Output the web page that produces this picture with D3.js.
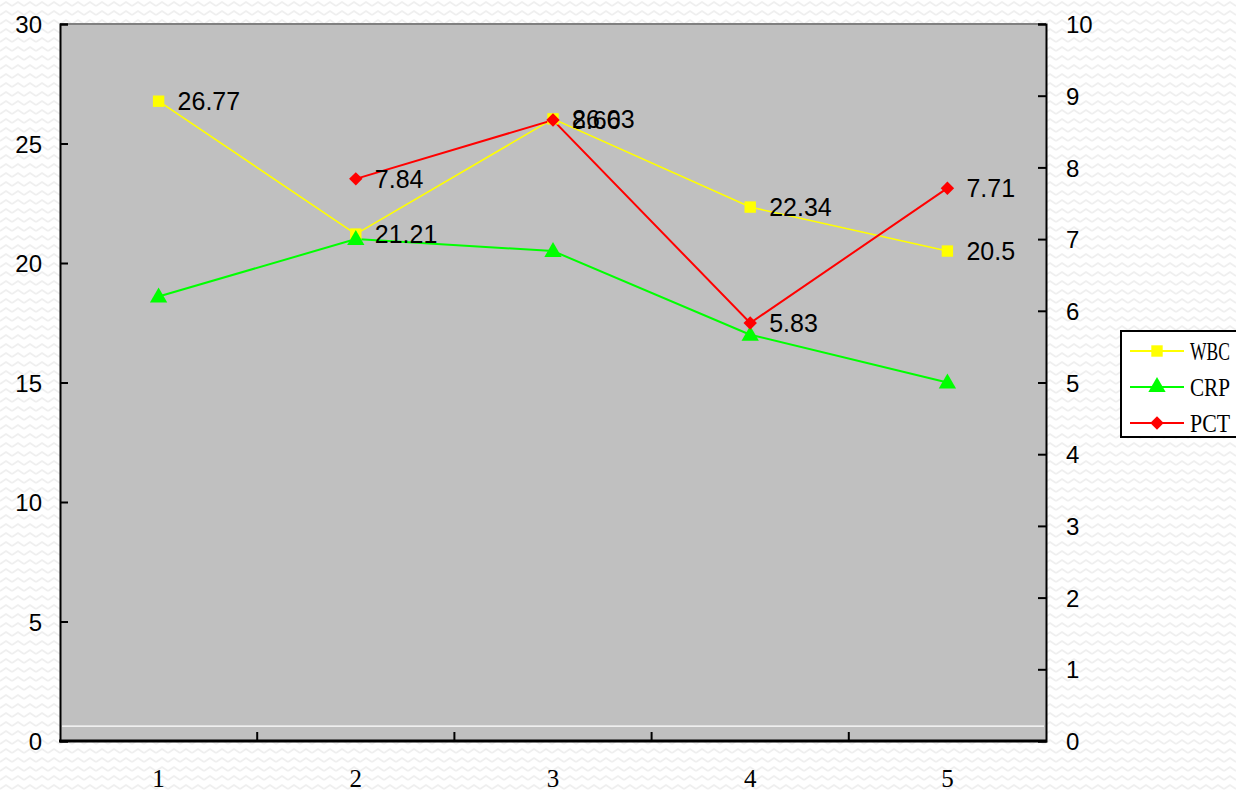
<!DOCTYPE html>
<html>
<head>
<meta charset="utf-8">
<script src="https://cdn.jsdelivr.net/npm/d3@7"></script>
<style>
  html, body { margin: 0; padding: 0; background: #fff; }
  svg { display: block; }
</style>
</head>
<body>
<svg id="chart" width="1236" height="791"></svg>
<script>
// Inflammation markers over five time points
const categories = ["1", "2", "3", "4", "5"];
const wbc = [26.77, 21.21, 26.03, 22.34, 20.5];      // left axis
const crp = [18.6, 21.0, 20.5, 17.0, 15.0];          // left axis
const pct = [null, 7.84, 8.66, 5.83, 7.71];          // right axis
const leftTicks = [0, 5, 10, 15, 20, 25, 30];
const rightTicks = [0, 1, 2, 3, 4, 5, 6, 7, 8, 9, 10];
const baselineValue = 0.62;                          // faint reference line

const svg = d3.select("#chart");
const W = 1236, H = 791;
const plot = { left: 60, right: 1046, top: 24, bottom: 741 };

// Page background: faint zigzag texture
const defs = svg.append("defs");
const pat = defs.append("pattern")
  .attr("id", "zig").attr("patternUnits", "userSpaceOnUse")
  .attr("width", 12).attr("height", 9);
pat.append("rect").attr("width", 12).attr("height", 9).attr("fill", "#ffffff");
pat.append("path").attr("d", "M0,6 L6,2 L12,6")
  .attr("fill", "none").attr("stroke", "#efefef").attr("stroke-width", 1.6);
svg.append("rect").attr("width", W).attr("height", H).attr("fill", "url(#zig)");

const x = d3.scaleBand().domain(categories).range([plot.left, plot.right]);
const yL = d3.scaleLinear().domain([0, 30]).range([plot.bottom, plot.top]);
const yR = d3.scaleLinear().domain([0, 10]).range([plot.bottom, plot.top]);
const cx = d => x(d) + x.bandwidth() / 2;

// Plot area
svg.append("rect")
  .attr("x", plot.left).attr("y", plot.top)
  .attr("width", plot.right - plot.left).attr("height", plot.bottom - plot.top)
  .attr("fill", "#c0c0c0");
svg.append("line")
  .attr("x1", plot.left).attr("x2", plot.right)
  .attr("y1", plot.top).attr("y2", plot.top)
  .attr("stroke", "#808080").attr("stroke-width", 2);
svg.append("line")
  .attr("x1", plot.left + 2).attr("x2", plot.right - 2)
  .attr("y1", yL(baselineValue)).attr("y2", yL(baselineValue))
  .attr("stroke", "#ffffff").attr("stroke-width", 1.2);

// Axes
const sansFont = "'Liberation Sans', Arial, sans-serif";
const serifFont = "'Liberation Serif', 'Times New Roman', serif";

const leftAxis = svg.append("g")
  .attr("transform", `translate(${plot.left},0)`)
  .call(d3.axisRight(yL).tickValues(leftTicks).tickSize(8).tickFormat(d3.format("d")));
leftAxis.select(".domain").attr("stroke", "#000").attr("stroke-width", 2);
leftAxis.selectAll(".tick line").attr("stroke", "#000").attr("stroke-width", 2);
leftAxis.selectAll(".tick text")
  .attr("x", -18).attr("text-anchor", "end").attr("dy", "0.36em")
  .attr("font-family", sansFont).attr("font-size", 24).attr("fill", "#000");

const rightAxis = svg.append("g")
  .attr("transform", `translate(${plot.right},0)`)
  .call(d3.axisLeft(yR).tickValues(rightTicks).tickSize(8).tickFormat(d3.format("d")));
rightAxis.select(".domain").attr("stroke", "#000").attr("stroke-width", 2);
rightAxis.selectAll(".tick line").attr("stroke", "#000").attr("stroke-width", 2);
rightAxis.selectAll(".tick text")
  .attr("x", 20).attr("text-anchor", "start").attr("dy", "0.36em")
  .attr("font-family", sansFont).attr("font-size", 24).attr("fill", "#000");

// Bottom axis: ticks between categories, labels centred under each category
const bottom = svg.append("g");
bottom.append("line")
  .attr("x1", plot.left - 1).attr("x2", plot.right + 1)
  .attr("y1", plot.bottom).attr("y2", plot.bottom)
  .attr("stroke", "#000").attr("stroke-width", 3);
bottom.selectAll("line.tick")
  .data(categories.slice(1))
  .join("line").attr("class", "tick")
  .attr("x1", d => x(d)).attr("x2", d => x(d))
  .attr("y1", plot.bottom).attr("y2", plot.bottom - 9)
  .attr("stroke", "#000").attr("stroke-width", 2);
bottom.selectAll("text")
  .data(categories)
  .join("text")
  .attr("x", d => cx(d)).attr("y", 787)
  .attr("text-anchor", "middle")
  .attr("font-family", serifFont).attr("font-size", 25).attr("fill", "#000")
  .text(d => d);

// Diamond marker: a square turned 45 degrees
const symbolRhomb = {
  draw(ctx, size) {
    const r = Math.sqrt(size / 2);
    ctx.moveTo(0, -r); ctx.lineTo(r, 0); ctx.lineTo(0, r); ctx.lineTo(-r, 0); ctx.closePath();
  }
};

// Series
const series = [
  { name: "WBC", values: wbc, scale: yL, color: "#ffff00", width: 1.6, symbol: d3.symbolSquare, size: 130, labels: true },
  { name: "CRP", values: crp, scale: yL, color: "#00ff00", width: 2, symbol: d3.symbolTriangle, size: 130, labels: false },
  { name: "PCT", values: pct, scale: yR, color: "#ff0000", width: 2, symbol: symbolRhomb, size: 90, labels: true }
];

series.forEach(s => {
  const pts = categories.map((c, i) => ({ c, v: s.values[i] })).filter(p => p.v != null);
  const line = d3.line().x(p => cx(p.c)).y(p => s.scale(p.v));
  svg.append("path").datum(pts)
    .attr("d", line).attr("fill", "none")
    .attr("stroke", s.color).attr("stroke-width", s.width);
});

series.forEach(s => {
  const pts = categories.map((c, i) => ({ c, v: s.values[i] })).filter(p => p.v != null);
  svg.append("g").selectAll("path")
    .data(pts).join("path")
    .attr("d", d3.symbol().type(s.symbol).size(s.size))
    .attr("transform", p => `translate(${cx(p.c)},${s.scale(p.v) + (s.symbol === d3.symbolTriangle ? 1 : 0)})`)
    .attr("fill", s.color);
});

series.filter(s => s.labels).forEach(s => {
  const pts = categories.map((c, i) => ({ c, v: s.values[i] })).filter(p => p.v != null);
  svg.append("g").selectAll("text")
    .data(pts).join("text")
    .attr("x", p => cx(p.c) + 19).attr("y", p => s.scale(p.v))
    .attr("dy", "0.36em")
    .attr("font-family", sansFont).attr("font-size", 25).attr("fill", "#000")
    .text(p => String(p.v));
});

// Legend
const legend = svg.append("g").attr("transform", "translate(1120,330)");
legend.append("rect")
  .attr("x", 1).attr("y", 1).attr("width", 130).attr("height", 106)
  .attr("fill", "#ffffff").attr("stroke", "#000").attr("stroke-width", 2);
series.forEach((s, i) => {
  const y = 21 + i * 36;
  legend.append("line")
    .attr("x1", 10).attr("x2", 64).attr("y1", y).attr("y2", y)
    .attr("stroke", s.color).attr("stroke-width", 2);
  legend.append("path")
    .attr("d", d3.symbol().type(s.symbol).size(s.size))
    .attr("transform", `translate(37,${y})`)
    .attr("fill", s.color);
  legend.append("text")
    .attr("x", 70).attr("y", y).attr("dy", "0.36em")
    .attr("font-family", serifFont).attr("font-size", 26).attr("fill", "#000")
    .attr("textLength", 40).attr("lengthAdjust", "spacingAndGlyphs")
    .text(s.name);
});
</script>
</body>
</html>
